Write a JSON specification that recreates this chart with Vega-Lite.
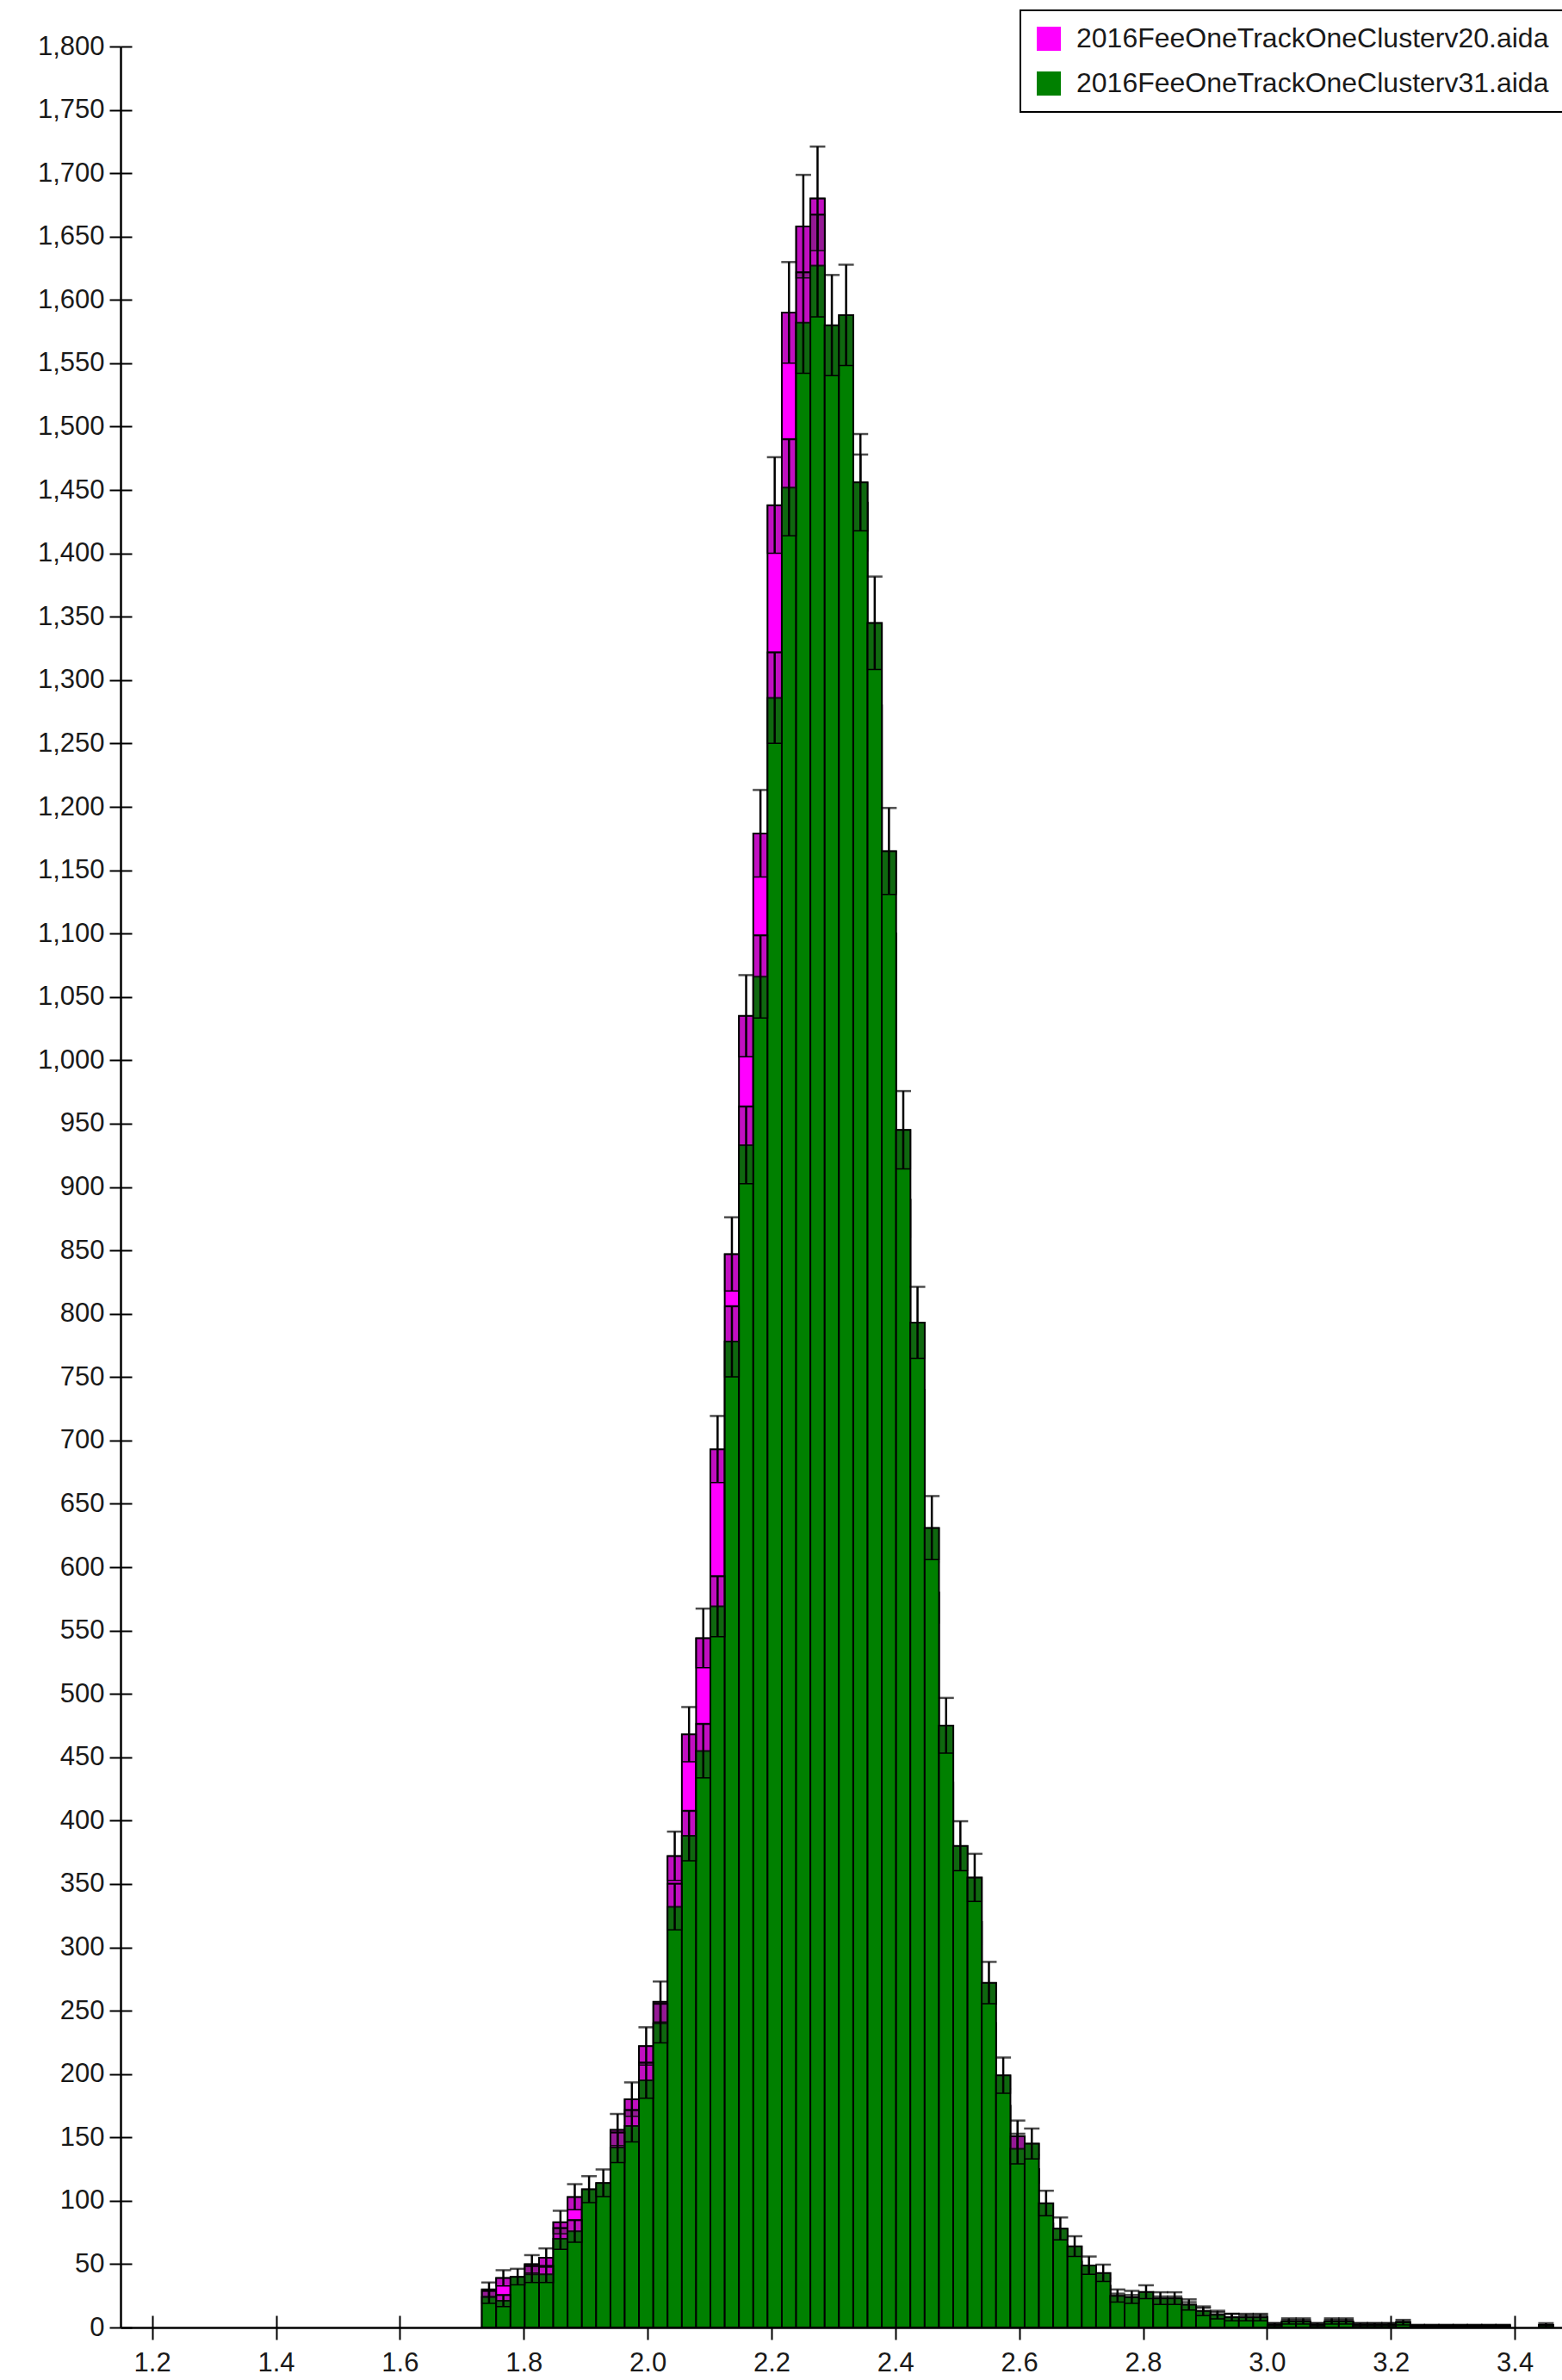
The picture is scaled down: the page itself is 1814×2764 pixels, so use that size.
{
  "$schema": "https://vega.github.io/schema/vega-lite/v6.json",
  "width": 1674,
  "height": 2649,
  "autosize": {"type": "none"},
  "padding": {"left": 140, "top": 54, "right": 0, "bottom": 61},
  "background": "white",
  "config": {
    "view": {"stroke": null},
    "font": "Liberation Sans",
    "axis": {
      "grid": false,
      "title": null,
      "labelFont": "Liberation Sans",
      "labelFontSize": 31,
      "labelColor": "#1a1a1a",
      "domainColor": "black",
      "domainWidth": 2.5,
      "tickColor": "black",
      "tickWidth": 2,
      "labelFlush": false,
      "labelOverlap": false
    },
    "legend": {"strokeWidth": 2}
  },
  "datasets": {
    "v20": [
      {"c":1.7440,"v":30,"lo":24.5,"hi":35.5},
      {"c":1.7671,"v":39,"lo":32.8,"hi":45.2},
      {"c":1.7902,"v":33,"lo":27.3,"hi":38.7},
      {"c":1.8132,"v":50,"lo":42.9,"hi":57.1},
      {"c":1.8363,"v":55,"lo":47.6,"hi":62.4},
      {"c":1.8593,"v":83,"lo":73.9,"hi":92.1},
      {"c":1.8824,"v":103,"lo":92.9,"hi":113.1},
      {"c":1.9055,"v":95,"lo":85.3,"hi":104.7},
      {"c":1.9285,"v":100,"lo":90,"hi":110},
      {"c":1.9516,"v":156,"lo":143.5,"hi":168.5},
      {"c":1.9746,"v":180,"lo":166.6,"hi":193.4},
      {"c":1.9977,"v":222,"lo":207.1,"hi":236.9},
      {"c":2.0208,"v":257,"lo":241,"hi":273},
      {"c":2.0438,"v":372,"lo":352.7,"hi":391.3},
      {"c":2.0669,"v":468,"lo":446.4,"hi":489.6},
      {"c":2.0899,"v":544,"lo":520.7,"hi":567.3},
      {"c":2.1130,"v":693,"lo":666.7,"hi":719.3},
      {"c":2.1361,"v":847,"lo":817.9,"hi":876.1},
      {"c":2.1591,"v":1035,"lo":1002.8,"hi":1067.2},
      {"c":2.1822,"v":1179,"lo":1144.7,"hi":1213.3},
      {"c":2.2052,"v":1438,"lo":1400.1,"hi":1475.9},
      {"c":2.2283,"v":1590,"lo":1550.1,"hi":1629.9},
      {"c":2.2514,"v":1658,"lo":1617.3,"hi":1698.7},
      {"c":2.2744,"v":1680,"lo":1639,"hi":1721},
      {"c":2.2975,"v":1500,"lo":1461.3,"hi":1538.7},
      {"c":2.3205,"v":1510,"lo":1471.1,"hi":1548.9},
      {"c":2.3436,"v":1440,"lo":1402,"hi":1478},
      {"c":2.3667,"v":1280,"lo":1244.2,"hi":1315.8},
      {"c":2.3897,"v":1100,"lo":1066.8,"hi":1133.2},
      {"c":2.4128,"v":890,"lo":860.2,"hi":919.8},
      {"c":2.4358,"v":740,"lo":712.8,"hi":767.2},
      {"c":2.4589,"v":580,"lo":555.9,"hi":604.1},
      {"c":2.4820,"v":430,"lo":409.3,"hi":450.7},
      {"c":2.5050,"v":340,"lo":321.6,"hi":358.4},
      {"c":2.5281,"v":320,"lo":302.1,"hi":337.9},
      {"c":2.5511,"v":240,"lo":224.5,"hi":255.5},
      {"c":2.5742,"v":175,"lo":161.8,"hi":188.2},
      {"c":2.5973,"v":151,"lo":138.7,"hi":163.3},
      {"c":2.6203,"v":125,"lo":113.8,"hi":136.2},
      {"c":2.6434,"v":82,"lo":72.9,"hi":91.1},
      {"c":2.6664,"v":65,"lo":56.9,"hi":73.1},
      {"c":2.6895,"v":52,"lo":44.8,"hi":59.2},
      {"c":2.7126,"v":38,"lo":31.8,"hi":44.2},
      {"c":2.7356,"v":33,"lo":27.3,"hi":38.7},
      {"c":2.7587,"v":22,"lo":17.3,"hi":26.7},
      {"c":2.7817,"v":21,"lo":16.4,"hi":25.6},
      {"c":2.8048,"v":22,"lo":17.3,"hi":26.7},
      {"c":2.8279,"v":20,"lo":15.5,"hi":24.5},
      {"c":2.8509,"v":20,"lo":15.5,"hi":24.5},
      {"c":2.8740,"v":16,"lo":12,"hi":20},
      {"c":2.8970,"v":12,"lo":8.5,"hi":15.5},
      {"c":2.9201,"v":9,"lo":6,"hi":12},
      {"c":2.9432,"v":8,"lo":5.2,"hi":10.8},
      {"c":2.9662,"v":7,"lo":4.4,"hi":9.6},
      {"c":2.9893,"v":7,"lo":4.4,"hi":9.6},
      {"c":3.0123,"v":2,"lo":0.6,"hi":3.4},
      {"c":3.0354,"v":4,"lo":2,"hi":6},
      {"c":3.0585,"v":4,"lo":2,"hi":6},
      {"c":3.0815,"v":2,"lo":0.6,"hi":3.4},
      {"c":3.1046,"v":4,"lo":2,"hi":6},
      {"c":3.1276,"v":4,"lo":2,"hi":6},
      {"c":3.1507,"v":2,"lo":0.6,"hi":3.4},
      {"c":3.1738,"v":2,"lo":0.6,"hi":3.4},
      {"c":3.1968,"v":2,"lo":0.6,"hi":3.4},
      {"c":3.2199,"v":3,"lo":1.3,"hi":4.7},
      {"c":3.2429,"v":1,"lo":0,"hi":2},
      {"c":3.2660,"v":1,"lo":0,"hi":2},
      {"c":3.2891,"v":1,"lo":0,"hi":2},
      {"c":3.3121,"v":1,"lo":0,"hi":2},
      {"c":3.3352,"v":1,"lo":0,"hi":2},
      {"c":3.3582,"v":1,"lo":0,"hi":2},
      {"c":3.3813,"v":1,"lo":0,"hi":2},
      {"c":3.4505,"v":1,"lo":0,"hi":2}
    ],
    "v31": [
      {"c":1.7440,"v":24,"lo":19.1,"hi":28.9,"st":28.9},
      {"c":1.7671,"v":21,"lo":16.4,"hi":25.6,"st":25.6},
      {"c":1.7902,"v":40,"lo":33.7,"hi":46.3,"st":40},
      {"c":1.8132,"v":42,"lo":35.5,"hi":48.5,"st":48.5},
      {"c":1.8363,"v":42,"lo":35.5,"hi":48.5,"st":48.5},
      {"c":1.8593,"v":70,"lo":61.6,"hi":78.4,"st":78.4},
      {"c":1.8824,"v":76,"lo":67.3,"hi":84.7,"st":84.7},
      {"c":1.9055,"v":109,"lo":98.6,"hi":119.4,"st":109},
      {"c":1.9285,"v":114,"lo":103.3,"hi":124.7,"st":114},
      {"c":1.9516,"v":142,"lo":130.1,"hi":153.9,"st":153.9},
      {"c":1.9746,"v":159,"lo":146.4,"hi":171.6,"st":171.6},
      {"c":1.9977,"v":195,"lo":181,"hi":209,"st":209},
      {"c":2.0208,"v":240,"lo":224.5,"hi":255.5,"st":255.5},
      {"c":2.0438,"v":332,"lo":313.8,"hi":350.2,"st":350.2},
      {"c":2.0669,"v":388,"lo":368.3,"hi":407.7,"st":407.7},
      {"c":2.0899,"v":455,"lo":433.7,"hi":476.3,"st":476.3},
      {"c":2.1130,"v":569,"lo":545.1,"hi":592.9,"st":592.9},
      {"c":2.1361,"v":778,"lo":750.1,"hi":805.9,"st":805.9},
      {"c":2.1591,"v":933,"lo":902.5,"hi":963.5,"st":963.5},
      {"c":2.1822,"v":1066,"lo":1033.4,"hi":1098.6,"st":1098.6},
      {"c":2.2052,"v":1286,"lo":1250.1,"hi":1321.9,"st":1321.9},
      {"c":2.2283,"v":1452,"lo":1413.9,"hi":1490.1,"st":1490.1},
      {"c":2.2514,"v":1582,"lo":1542.2,"hi":1621.8,"st":1621.8},
      {"c":2.2744,"v":1627,"lo":1586.7,"hi":1667.3,"st":1667.3},
      {"c":2.2975,"v":1580,"lo":1540.3,"hi":1619.7,"st":1580},
      {"c":2.3205,"v":1588,"lo":1548.2,"hi":1627.8,"st":1588},
      {"c":2.3436,"v":1456,"lo":1417.8,"hi":1494.2,"st":1456},
      {"c":2.3667,"v":1345,"lo":1308.3,"hi":1381.7,"st":1345},
      {"c":2.3897,"v":1165,"lo":1130.9,"hi":1199.1,"st":1165},
      {"c":2.4128,"v":945,"lo":914.3,"hi":975.7,"st":945},
      {"c":2.4358,"v":793,"lo":764.8,"hi":821.2,"st":793},
      {"c":2.4589,"v":631,"lo":605.9,"hi":656.1,"st":631},
      {"c":2.4820,"v":475,"lo":453.2,"hi":496.8,"st":475},
      {"c":2.5050,"v":380,"lo":360.5,"hi":399.5,"st":380},
      {"c":2.5281,"v":355,"lo":336.2,"hi":373.8,"st":355},
      {"c":2.5511,"v":272,"lo":255.5,"hi":288.5,"st":272},
      {"c":2.5742,"v":199,"lo":184.9,"hi":213.1,"st":199},
      {"c":2.5973,"v":141,"lo":129.1,"hi":152.9,"st":151},
      {"c":2.6203,"v":145,"lo":133,"hi":157,"st":145},
      {"c":2.6434,"v":98,"lo":88.1,"hi":107.9,"st":98},
      {"c":2.6664,"v":78,"lo":69.2,"hi":86.8,"st":78},
      {"c":2.6895,"v":64,"lo":56,"hi":72,"st":64},
      {"c":2.7126,"v":49,"lo":42,"hi":56,"st":49},
      {"c":2.7356,"v":43,"lo":36.4,"hi":49.6,"st":43},
      {"c":2.7587,"v":25,"lo":20,"hi":30,"st":25},
      {"c":2.7817,"v":24,"lo":19.1,"hi":28.9,"st":24},
      {"c":2.8048,"v":28,"lo":22.7,"hi":33.3,"st":28},
      {"c":2.8279,"v":23,"lo":18.2,"hi":27.8,"st":23},
      {"c":2.8509,"v":23,"lo":18.2,"hi":27.8,"st":23},
      {"c":2.8740,"v":18,"lo":13.8,"hi":22.2,"st":18},
      {"c":2.8970,"v":13,"lo":9.4,"hi":16.6,"st":13},
      {"c":2.9201,"v":10,"lo":6.8,"hi":13.2,"st":10},
      {"c":2.9432,"v":8,"lo":5.2,"hi":10.8,"st":8},
      {"c":2.9662,"v":8,"lo":5.2,"hi":10.8,"st":8},
      {"c":2.9893,"v":8,"lo":5.2,"hi":10.8,"st":8},
      {"c":3.0123,"v":2,"lo":0.6,"hi":3.4,"st":2},
      {"c":3.0354,"v":5,"lo":2.8,"hi":7.2,"st":5},
      {"c":3.0585,"v":5,"lo":2.8,"hi":7.2,"st":5},
      {"c":3.0815,"v":2,"lo":0.6,"hi":3.4,"st":2},
      {"c":3.1046,"v":5,"lo":2.8,"hi":7.2,"st":5},
      {"c":3.1276,"v":5,"lo":2.8,"hi":7.2,"st":5},
      {"c":3.1507,"v":2,"lo":0.6,"hi":3.4,"st":2},
      {"c":3.1738,"v":2,"lo":0.6,"hi":3.4,"st":2},
      {"c":3.1968,"v":2,"lo":0.6,"hi":3.4,"st":2},
      {"c":3.2199,"v":4,"lo":2,"hi":6,"st":4},
      {"c":3.2429,"v":1,"lo":0,"hi":2,"st":1},
      {"c":3.2660,"v":1,"lo":0,"hi":2,"st":1},
      {"c":3.2891,"v":1,"lo":0,"hi":2,"st":1},
      {"c":3.3121,"v":1,"lo":0,"hi":2,"st":1},
      {"c":3.3352,"v":1,"lo":0,"hi":2,"st":1},
      {"c":3.3582,"v":1,"lo":0,"hi":2,"st":1},
      {"c":3.3813,"v":1,"lo":0,"hi":2,"st":1},
      {"c":3.4505,"v":2,"lo":0.6,"hi":3.4,"st":2}
    ]
  },
  "resolve": {"axis": {"x": "independent", "y": "independent"}},
  "layer": [
    {
      "data": {"name": "v20"},
      "encoding": {
        "x": {
          "field": "c",
          "type": "quantitative",
          "scale": {"domain": [1.156, 3.4694], "nice": false, "zero": false},
          "axis": {
            "orient": "bottom",
            "values": [1.2, 1.4, 1.6, 1.8, 2.0, 2.2, 2.4, 2.6, 2.8, 3.0, 3.2, 3.4],
            "format": ".1f",
            "tickSize": 14,
            "labelPadding": 12
          }
        }
      },
      "layer": [
        {
          "mark": {"type": "bar", "orient": "vertical", "width": 16.686, "stroke": "black", "strokeWidth": 2},
          "encoding": {
            "y": {
              "field": "v",
              "type": "quantitative",
              "stack": null,
              "scale": {"domain": [0, 1800], "nice": false},
              "axis": {
                "orient": "left",
                "values": [0,50,100,150,200,250,300,350,400,450,500,550,600,650,700,750,800,850,900,950,1000,1050,1100,1150,1200,1250,1300,1350,1400,1450,1500,1550,1600,1650,1700,1750,1800],
                "format": ",d",
                "tickSize": 13,
                "labelPadding": 6
              }
            },
            "color": {
              "datum": "2016FeeOneTrackOneClusterv20.aida",
              "type": "nominal",
              "scale": {
                "domain": ["2016FeeOneTrackOneClusterv20.aida", "2016FeeOneTrackOneClusterv31.aida"],
                "range": ["#ff00ff", "#008000"]
              },
              "legend": {
                "orient": "none",
                "legendX": 1045,
                "legendY": -42,
                "title": null,
                "symbolType": "square",
                "symbolSize": 784,
                "symbolStrokeWidth": 0,
                "symbolOpacity": 1,
                "labelFont": "Liberation Sans",
                "labelFontSize": 32,
                "labelColor": "#1a1a1a",
                "labelLimit": 1000,
                "labelOffset": 16,
                "rowPadding": 20,
                "padding": 17,
                "strokeColor": "black",
                "fillColor": "white"
              }
            }
          }
        },
        {
          "mark": {"type": "bar", "orient": "vertical", "width": 16.686, "fill": "#333333", "fillOpacity": 0.3, "stroke": "black", "strokeWidth": 1.5},
          "encoding": {
            "y": {"field": "lo", "type": "quantitative"},
            "y2": {"field": "v"}
          }
        },
        {
          "mark": {"type": "rule", "color": "black", "strokeWidth": 2.5},
          "encoding": {
            "y": {"field": "lo", "type": "quantitative"},
            "y2": {"field": "hi"}
          }
        },
        {
          "mark": {"type": "tick", "orient": "horizontal", "color": "black", "thickness": 2.5, "size": 18},
          "encoding": {
            "y": {"field": "hi", "type": "quantitative"}
          }
        }
      ]
    },
    {
      "data": {"name": "v31"},
      "encoding": {
        "x": {
          "field": "c",
          "type": "quantitative",
          "axis": {
            "orient": "bottom",
            "values": [1.2, 1.4, 1.6, 1.8, 2.0, 2.2, 2.4, 2.6, 2.8, 3.0, 3.2, 3.4],
            "labels": false,
            "domain": false,
            "tickSize": -14
          }
        }
      },
      "layer": [
        {
          "mark": {"type": "bar", "orient": "vertical", "width": 16.686, "stroke": "black", "strokeWidth": 2},
          "encoding": {
            "y": {
              "field": "v",
              "type": "quantitative",
              "stack": null,
              "axis": {
                "orient": "left",
                "values": [0,50,100,150,200,250,300,350,400,450,500,550,600,650,700,750,800,850,900,950,1000,1050,1100,1150,1200,1250,1300,1350,1400,1450,1500,1550,1600,1650,1700,1750,1800],
                "labels": false,
                "domain": false,
                "tickSize": -13
              }
            },
            "color": {"datum": "2016FeeOneTrackOneClusterv31.aida", "type": "nominal"}
          }
        },
        {
          "mark": {"type": "bar", "orient": "vertical", "width": 16.686, "fill": "#333333", "fillOpacity": 0.3, "stroke": "black", "strokeWidth": 1.5},
          "encoding": {
            "y": {"field": "lo", "type": "quantitative"},
            "y2": {"field": "st"}
          }
        },
        {
          "mark": {"type": "rule", "color": "black", "strokeWidth": 2.5},
          "encoding": {
            "y": {"field": "lo", "type": "quantitative"},
            "y2": {"field": "hi"}
          }
        },
        {
          "mark": {"type": "tick", "orient": "horizontal", "color": "black", "thickness": 2.5, "size": 18},
          "encoding": {
            "y": {"field": "hi", "type": "quantitative"}
          }
        }
      ]
    }
  ]
}
